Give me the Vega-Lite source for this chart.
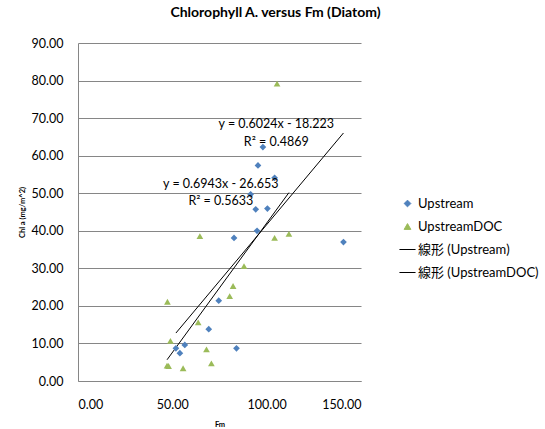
{
  "$schema": "https://vega.github.io/schema/vega-lite/v6.json",
  "autosize": "none",
  "width": 283,
  "height": 338,
  "padding": {"left": 78, "top": 43, "right": 184, "bottom": 48},
  "background": "white",
  "title": {
    "text": "Chlorophyll A. versus Fm (Diatom)",
    "font": "Lato, Noto Sans CJK JP",
    "fontSize": 14,
    "fontWeight": "bold",
    "color": "#000000",
    "anchor": "middle",
    "dx": 56,
    "offset": 17
  },
  "config": {
    "font": "Lato, Noto Sans CJK JP",
    "view": {"stroke": null},
    "axis": {
      "labelFont": "Lato, Noto Sans CJK JP",
      "labelFontSize": 12.5,
      "labelColor": "#000000",
      "labelOverlap": false,
      "domainColor": "#868686",
      "gridColor": "#868686",
      "gridWidth": 1,
      "ticks": false,
      "titleFont": "Lato, Noto Sans CJK JP",
      "titleFontWeight": "bold",
      "titleFontSize": 7.5,
      "titleColor": "#000000"
    }
  },
  "datasets": {
    "obs": [
      {"Fm": 98.0, "Chla": 62.3, "series": "Upstream", "trend": "線形 (Upstream)"},
      {"Fm": 95.4, "Chla": 57.4, "series": "Upstream", "trend": "線形 (Upstream)"},
      {"Fm": 104.2, "Chla": 54.1, "series": "Upstream", "trend": "線形 (Upstream)"},
      {"Fm": 91.5, "Chla": 49.7, "series": "Upstream", "trend": "線形 (Upstream)"},
      {"Fm": 94.2, "Chla": 45.7, "series": "Upstream", "trend": "線形 (Upstream)"},
      {"Fm": 100.4, "Chla": 45.9, "series": "Upstream", "trend": "線形 (Upstream)"},
      {"Fm": 94.9, "Chla": 40.0, "series": "Upstream", "trend": "線形 (Upstream)"},
      {"Fm": 82.7, "Chla": 38.1, "series": "Upstream", "trend": "線形 (Upstream)"},
      {"Fm": 140.7, "Chla": 37.0, "series": "Upstream", "trend": "線形 (Upstream)"},
      {"Fm": 74.6, "Chla": 21.4, "series": "Upstream", "trend": "線形 (Upstream)"},
      {"Fm": 69.3, "Chla": 13.8, "series": "Upstream", "trend": "線形 (Upstream)"},
      {"Fm": 56.6, "Chla": 9.6, "series": "Upstream", "trend": "線形 (Upstream)"},
      {"Fm": 51.9, "Chla": 8.7, "series": "Upstream", "trend": "線形 (Upstream)"},
      {"Fm": 54.0, "Chla": 7.4, "series": "Upstream", "trend": "線形 (Upstream)"},
      {"Fm": 84.0, "Chla": 8.7, "series": "Upstream", "trend": "線形 (Upstream)"},
      {"Fm": 105.5, "Chla": 79.2, "series": "UpstreamDOC", "trend": "線形 (UpstreamDOC)"},
      {"Fm": 64.6, "Chla": 38.6, "series": "UpstreamDOC", "trend": "線形 (UpstreamDOC)"},
      {"Fm": 104.2, "Chla": 38.1, "series": "UpstreamDOC", "trend": "線形 (UpstreamDOC)"},
      {"Fm": 111.8, "Chla": 39.2, "series": "UpstreamDOC", "trend": "線形 (UpstreamDOC)"},
      {"Fm": 88.0, "Chla": 30.6, "series": "UpstreamDOC", "trend": "線形 (UpstreamDOC)"},
      {"Fm": 82.2, "Chla": 25.3, "series": "UpstreamDOC", "trend": "線形 (UpstreamDOC)"},
      {"Fm": 80.4, "Chla": 22.6, "series": "UpstreamDOC", "trend": "線形 (UpstreamDOC)"},
      {"Fm": 47.4, "Chla": 21.1, "series": "UpstreamDOC", "trend": "線形 (UpstreamDOC)"},
      {"Fm": 63.7, "Chla": 15.6, "series": "UpstreamDOC", "trend": "線形 (UpstreamDOC)"},
      {"Fm": 49.0, "Chla": 10.7, "series": "UpstreamDOC", "trend": "線形 (UpstreamDOC)"},
      {"Fm": 68.1, "Chla": 8.4, "series": "UpstreamDOC", "trend": "線形 (UpstreamDOC)"},
      {"Fm": 70.7, "Chla": 4.7, "series": "UpstreamDOC", "trend": "線形 (UpstreamDOC)"},
      {"Fm": 47.2, "Chla": 4.1, "series": "UpstreamDOC", "trend": "線形 (UpstreamDOC)"},
      {"Fm": 48.0, "Chla": 4.0, "series": "UpstreamDOC", "trend": "線形 (UpstreamDOC)"},
      {"Fm": 55.7, "Chla": 3.4, "series": "UpstreamDOC", "trend": "線形 (UpstreamDOC)"}
    ],
    "labels": [
      {"Fm": 105.1, "Chla": 68.3, "text": "y = 0.6024x - 18.223"},
      {"Fm": 105.1, "Chla": 63.6, "text": "R² = 0.4869"},
      {"Fm": 75.7, "Chla": 52.4, "text": "y = 0.6943x - 26.653"},
      {"Fm": 75.7, "Chla": 47.9, "text": "R² = 0.5633"}
    ]
  },
  "encoding": {
    "x": {
      "field": "Fm",
      "type": "quantitative",
      "scale": {"domain": [0, 150], "nice": false, "zero": true},
      "axis": {
        "values": [0, 50, 100, 150],
        "format": ".2f",
        "grid": false,
        "labelPadding": 17,
        "title": "Fm",
        "titleColor": "#000000",
        "titlePadding": 10
      }
    },
    "y": {
      "field": "Chla",
      "type": "quantitative",
      "scale": {"domain": [0, 90], "nice": false},
      "axis": {
        "values": [0, 10, 20, 30, 40, 50, 60, 70, 80, 90],
        "format": ".2f",
        "grid": true,
        "labelOverlap": false,
        "labelPadding": 15,
        "title": "Chl a (mg/m^2)",
        "titleColor": "#000000",
        "titlePadding": 5
      }
    }
  },
  "layer": [
    {
      "data": {"name": "obs"},
      "transform": [
        {"regression": "Chla", "on": "Fm", "groupby": ["trend"]}
      ],
      "mark": {"type": "line", "strokeWidth": 1, "clip": true},
      "encoding": {
        "color": {"field": "trend", "type": "nominal"}
      }
    },
    {
      "data": {"name": "obs"},
      "mark": {"type": "point", "filled": true, "opacity": 1, "size": 45},
      "encoding": {
        "color": {
          "field": "series",
          "type": "nominal",
          "scale": {
            "domain": ["Upstream", "UpstreamDOC", "線形 (Upstream)", "線形 (UpstreamDOC)"],
            "range": ["#4F81BD", "#9BBB59", "#000000", "#000000"]
          },
          "legend": {
            "title": null,
            "orient": "none",
            "legendX": 323,
            "legendY": 154,
            "labelFont": "Lato, Noto Sans CJK JP",
            "labelFontSize": 13,
            "labelColor": "#000000",
            "rowPadding": 9,
            "symbolSize": 45,
            "symbolStrokeWidth": 1,
            "labelOffset": 4,
            "encode": {
              "symbols": {
                "update": {
                  "stroke": {"scale": "color", "field": "value"},
                  "strokeWidth": {"value": 1},
                  "opacity": {"value": 1}
                }
              }
            }
          }
        },
        "shape": {
          "field": "series",
          "type": "nominal",
          "scale": {
            "domain": ["Upstream", "UpstreamDOC", "線形 (Upstream)", "線形 (UpstreamDOC)"],
            "range": ["diamond", "triangle-up", "M-2.4,0H2.4", "M-2.4,0H2.4"]
          },
          "legend": {"title": null}
        }
      }
    },
    {
      "data": {"name": "labels"},
      "mark": {"type": "text", "fontSize": 12.5, "font": "Lato, Noto Sans CJK JP", "color": "#000000", "align": "center", "baseline": "middle"},
      "encoding": {
        "text": {"field": "text"}
      }
    }
  ]
}
